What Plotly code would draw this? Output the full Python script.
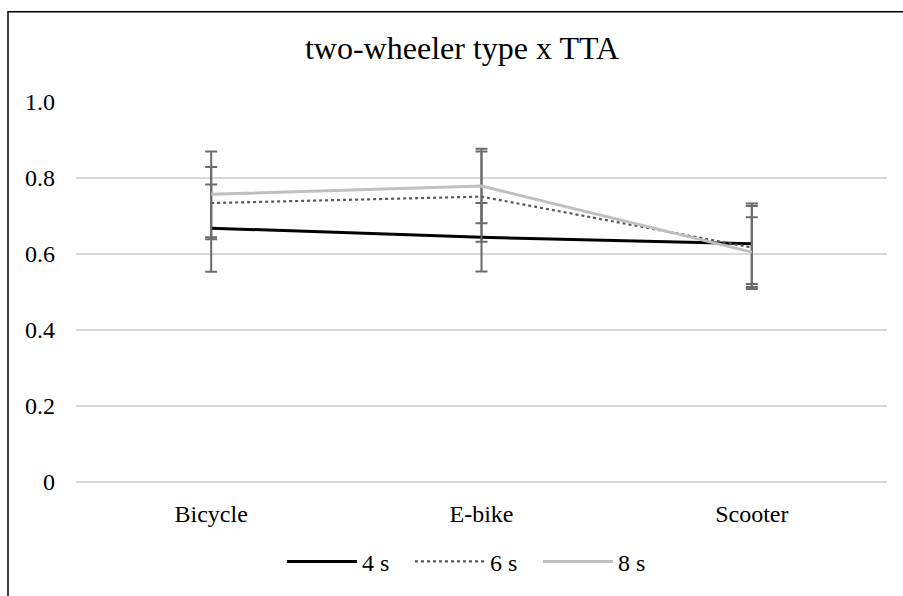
import plotly.graph_objects as go

categories = ["Bicycle", "E-bike", "Scooter"]
series_names = ["4 s", "6 s", "8 s"]
mean_4s = [0.668, 0.644, 0.627]
mean_6s = [0.734, 0.751, 0.617]
mean_8s = [0.757, 0.779, 0.605]
err_4s = [0.115, 0.090, 0.106]
err_6s = [0.095, 0.119, 0.109]
err_8s = [0.113, 0.098, 0.092]
y_tickvals = [0, 0.2, 0.4, 0.6, 0.8, 1.0]
y_ticktext = ["0", "0.2", "0.4", "0.6", "0.8", "1.0"]

FONT = "Liberation Serif, Times New Roman, serif"
styles = [
    dict(color="#000000", width=3, dash="solid"),
    dict(color="#595959", width=2.2, dash="dot"),
    dict(color="#bfbfbf", width=3, dash="solid"),
]
means = [mean_4s, mean_6s, mean_8s]
errs = [err_4s, err_6s, err_8s]

fig = go.Figure()
for name, m, e, st in zip(series_names, means, errs, styles):
    fig.add_trace(go.Scatter(
        x=categories, y=m, name=name, mode="lines",
        line=st,
        error_y=dict(type="data", array=e, visible=True,
                     color="#6b6b6b", thickness=2, width=6),
    ))

fig.update_layout(
    width=903, height=596,
    margin=dict(l=76, r=16, t=102, b=110.7),
    paper_bgcolor="white", plot_bgcolor="white",
    font=dict(family=FONT, size=24, color="#000000"),
    title=dict(text="two-wheeler type x TTA", x=(462 - 76) / 811, xanchor="center",
               xref="paper", y=1 - 48 / 596, yref="container", yanchor="middle",
               font=dict(family=FONT, size=32, color="#000000")),
    showlegend=True,
    legend=dict(orientation="h", x=(282 - 76) / 811, xanchor="left", y=-0.21,
                yanchor="middle", font=dict(family=FONT, size=24, color="#000000"),
                itemwidth=70, entrywidth=43, bgcolor="rgba(0,0,0,0)"),
    xaxis=dict(type="category", range=[-0.5, 2.5], showgrid=False,
               zeroline=False, showline=False,
               ticks="", ticklabelstandoff=15,
               tickfont=dict(family=FONT, size=24, color="#000000")),
    yaxis=dict(range=[0, 1.0], tickvals=y_tickvals, ticktext=y_ticktext,
               showgrid=True, gridcolor="#d9d9d9", gridwidth=1.5,
               zeroline=True, zerolinecolor="#d9d9d9", zerolinewidth=1.5,
               showline=False, ticks="", ticklabelstandoff=20,
               tickfont=dict(family=FONT, size=24, color="#000000")),
    shapes=[dict(type="rect", xref="paper", yref="paper",
                 x0=(8 - 76) / 811, x1=1.2, y0=-0.5, y1=(485.3 - 11) / 383.3,
                 line=dict(color="#000000", width=1.5), fillcolor="rgba(0,0,0,0)",
                 layer="below")],
)

fig.write_html("out.html")
